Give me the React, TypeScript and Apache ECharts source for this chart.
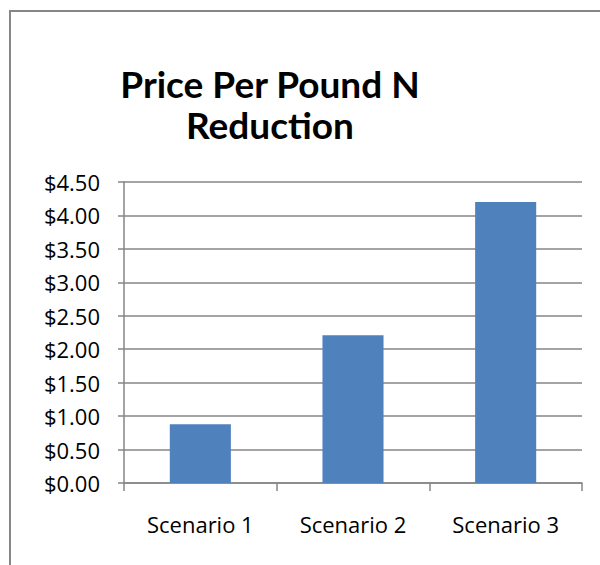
import React, { useEffect, useRef } from "react";
import * as echarts from "echarts";

const categories = ["Scenario 1", "Scenario 2", "Scenario 3"];
const values = [0.88, 2.21, 4.2];
const titleLines = ["Price Per Pound N", "Reduction"];

export default function App() {
  const ref = useRef<HTMLDivElement>(null);
  useEffect(() => {
    if (!ref.current) return;
    const chart = echarts.init(ref.current, undefined, { renderer: "svg" });
    const titleStyle = {
      fontFamily: "Lato",
      fontWeight: "bold",
      fontSize: 37,
      lineHeight: 37,
      color: "#000",
    };
    chart.setOption({
      animation: false,
      backgroundColor: "#ffffff",
      title: titleLines.map((t, i) => ({
        text: t,
        left: 270,
        top: 65 + i * 41,
        padding: 0,
        textAlign: "center",
        textStyle: titleStyle,
      })),
      graphic: [
        {
          type: "rect",
          shape: { x: 10, y: 11, width: 700, height: 700 },
          style: { fill: "none", stroke: "#868686", lineWidth: 2 },
          silent: true,
        },
      ],
      grid: { left: 124, right: 18, top: 182, bottom: 82, containLabel: false },
      xAxis: {
        type: "category",
        data: categories,
        axisLine: { show: true, lineStyle: { color: "#868686", width: 1.5 } },
        axisTick: { show: true, length: 8, lineStyle: { color: "#868686", width: 1.5 } },
        axisLabel: {
          margin: 30,
          fontFamily: "Open Sans",
          fontSize: 22,
          color: "#000",
        },
      },
      yAxis: {
        type: "value",
        min: 0,
        max: 4.5,
        interval: 0.5,
        axisLine: { show: true, lineStyle: { color: "#868686", width: 1.5 } },
        axisTick: { show: true, inside: false, length: 6, lineStyle: { color: "#868686", width: 1.5 } },
        splitLine: { show: true, lineStyle: { color: "#868686", width: 1.5 } },
        axisLabel: {
          margin: 24,
          fontFamily: "Open Sans",
          fontSize: 22,
          color: "#000",
          formatter: (v: number) => "$" + v.toFixed(2),
        },
      },
      series: [
        {
          type: "bar",
          data: values,
          barWidth: "40%",
          itemStyle: { color: "#4F81BD" },
        },
      ],
    });
    return () => chart.dispose();
  }, []);
  return <div ref={ref} style={{ width: 600, height: 565, position: "fixed", left: 0, top: 0 }} />;
}
